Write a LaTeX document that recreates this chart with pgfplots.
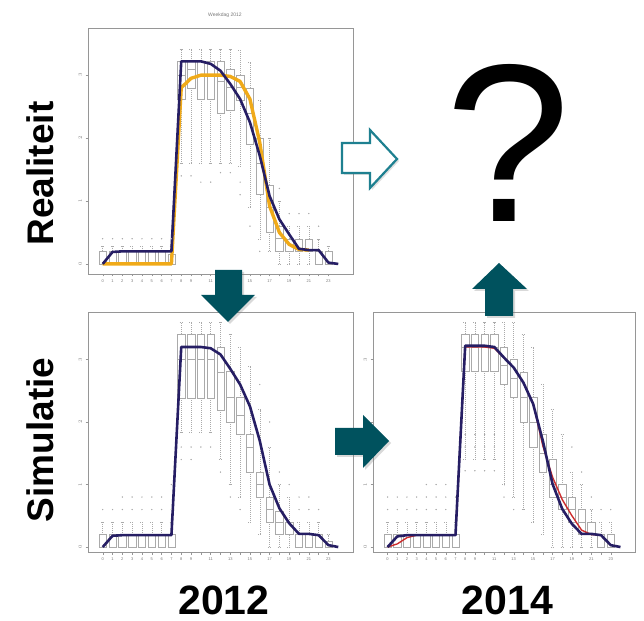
\documentclass[border=0pt]{standalone}
\usepackage{pgfplots}
\pgfplotsset{compat=1.18}
\usepgfplotslibrary{statistics}
\usetikzlibrary{shadows}
\usepackage{fontspec}
\setmainfont{Liberation Sans}
\definecolor{navy}{RGB}{38,30,100}
\definecolor{orangeline}{RGB}{240,170,25}
\definecolor{redline}{RGB}{205,45,45}
\definecolor{boxgray}{RGB}{170,170,170}
\definecolor{framegray}{RGB}{150,150,150}
\definecolor{labelgray}{RGB}{120,120,120}
\definecolor{tealdark}{RGB}{0,82,94}
\definecolor{tealmid}{RGB}{30,128,144}
\newcommand{\bx}[6]{\addplot[boxgray, line width=0.45pt, solid, mark=none,
  boxplot prepared={draw direction=y, draw position=#1, lower whisker=#2, lower quartile=#3,
  median=#4, upper quartile=#5, upper whisker=#6}] coordinates {};}
\pgfplotsset{panel/.style={scale only axis, xmin=-1.5, xmax=25.5,
  axis line style={draw=framegray, line width=0.7pt},
  xtick={0,...,23},
  xticklabels={0,1,2,3,4,5,6,7,8,9,,11,,13,,15,,17,,19,,21,,23},
  ytick={0,1,2,3}, tick pos=left, tick align=outside, major tick length=2.5pt,
  tick style={draw=framegray, line width=0.4pt},
  tick label style={font=\fontsize{4}{4}\selectfont, text=labelgray},
  yticklabel style={rotate=90},
  boxplot/draw direction=y,
  boxplot/box extend=0.75, boxplot/whisker extend=0.35,
  boxplot/every whisker/.style={dash pattern=on 1pt off 1pt},
  boxplot/every median/.style={line width=0.6pt},
  }}
\begin{document}
\begin{tikzpicture}[x=1pt,y=1pt]
\useasboundingbox (0pt,0pt) rectangle (644pt,620pt);

% ---------------- Panel 1: Realiteit 2012 ----------------
\begin{axis}[panel, at={(88pt,592pt)}, anchor=north west, width=265pt, height=246pt,
  ymin=-0.16, ymax=3.75]
\bx{0}{0}{0}{0}{0.2}{0.28}
\bx{1}{0}{0}{0}{0.2}{0.28}
\bx{2}{0}{0}{0}{0.2}{0.28}
\bx{3}{0}{0}{0}{0.2}{0.28}
\bx{4}{0}{0}{0}{0.2}{0.28}
\bx{5}{0}{0}{0}{0.2}{0.28}
\bx{6}{0}{0}{0}{0.2}{0.28}
\bx{7}{0}{0}{0}{0.15}{0.28}
\bx{8}{1.6}{2.62}{3.0}{3.22}{3.42}
\bx{9}{1.6}{2.8}{3.1}{3.22}{3.42}
\bx{10}{1.6}{2.62}{3.0}{3.22}{3.42}
\bx{11}{1.6}{2.62}{3.0}{3.22}{3.42}
\bx{12}{1.6}{2.4}{2.9}{3.22}{3.42}
\bx{13}{1.6}{2.45}{2.8}{3.1}{3.42}
\bx{14}{1.55}{2.6}{2.8}{3.0}{3.4}
\bx{15}{0.9}{1.9}{2.4}{2.8}{3.2}
\bx{16}{0.4}{1.1}{1.6}{2.0}{2.6}
\bx{17}{0.2}{0.5}{0.9}{1.25}{2.0}
\bx{18}{0}{0.2}{0.4}{0.6}{1.0}
\bx{19}{0}{0.2}{0.2}{0.4}{0.6}
\bx{20}{0}{0.2}{0.2}{0.4}{0.6}
\bx{21}{0}{0.2}{0.2}{0.4}{0.6}
\bx{22}{0}{0}{0.2}{0.2}{0.4}
\bx{23}{0}{0}{0}{0.2}{0.28}
\addplot[only marks, mark=*, mark size=0.45pt, boxgray] coordinates {
 (0,0.4)(1,0.4)(2,0.4)(3,0.4)(4,0.4)(5,0.4)(6,0.4)(7,0.4)
 (8,1.4)(9,1.4)(10,1.3)(11,1.3)(12,1.45)(13,1.45)(14,1.3)(14,1.1)
 (15,0.6)(16,0.2)(18,1.2)(19,0.8)(20,0.8)(21,0.8)(22,0.6)};
\addplot[orangeline, line width=3.4pt, line join=round] coordinates {
 (0,0)(1,0)(2,0)(3,0)(4,0)(5,0)(6,0)(7,0)(8,2.8)(9,2.95)(10,3.0)(11,3.0)
 (12,3.0)(13,2.98)(14,2.9)(15,2.62)(16,1.93)(17,0.92)(18,0.5)(19,0.31)
 (20,0.23)(21,0.22)};
\addplot[navy, line width=2.6pt, line join=round] coordinates {
 (0,0)(1,0.19)(2,0.2)(3,0.2)(4,0.2)(5,0.2)(6,0.2)(7,0.2)(8,3.22)(9,3.22)
 (10,3.22)(11,3.18)(12,3.07)(13,2.86)(14,2.62)(15,2.25)(16,1.72)(17,1.08)
 (18,0.71)(19,0.47)(20,0.24)(21,0.22)(22,0.22)(23,0.02)(24,0)};
\end{axis}

% ---------------- Panel 2: Simulatie 2012 ----------------
\begin{axis}[panel, at={(88pt,308pt)}, anchor=north west, width=265pt, height=240pt,
  ymin=-0.08, ymax=3.76]
\bx{0}{0}{0}{0}{0.2}{0.4}
\bx{1}{0}{0}{0}{0.2}{0.4}
\bx{2}{0}{0}{0}{0.2}{0.4}
\bx{3}{0}{0}{0}{0.2}{0.4}
\bx{4}{0}{0}{0}{0.2}{0.4}
\bx{5}{0}{0}{0}{0.2}{0.4}
\bx{6}{0}{0}{0}{0.2}{0.4}
\bx{7}{0}{0}{0}{0.2}{0.4}
\bx{8}{1.83}{2.38}{3.0}{3.41}{3.6}
\bx{9}{1.83}{2.38}{3.0}{3.41}{3.6}
\bx{10}{1.83}{2.38}{3.0}{3.41}{3.6}
\bx{11}{1.83}{2.38}{3.0}{3.41}{3.6}
\bx{12}{1.41}{2.19}{2.8}{3.2}{3.6}
\bx{13}{1.0}{2.0}{2.4}{2.82}{3.4}
\bx{14}{0.8}{1.81}{2.1}{2.39}{3.2}
\bx{15}{0.4}{1.2}{1.6}{1.81}{2.9}
\bx{16}{0.2}{0.8}{1.0}{1.2}{2.2}
\bx{17}{0}{0.4}{0.6}{0.8}{1.6}
\bx{18}{0}{0.21}{0.4}{0.58}{1.0}
\bx{19}{0}{0.2}{0.2}{0.4}{0.8}
\bx{20}{0}{0}{0.2}{0.2}{0.4}
\bx{21}{0}{0}{0.2}{0.2}{0.4}
\bx{22}{0}{0}{0.2}{0.2}{0.4}
\bx{23}{0}{0}{0}{0.1}{0.2}
\addplot[only marks, mark=*, mark size=0.45pt, boxgray] coordinates {
 (0,0.6)(1,0.6)(2,0.6)(3,0.6)(4,0.6)(5,0.6)(6,0.6)(7,0.6)
 (2,0.8)(3,0.8)(4,0.8)(5,0.8)(6,0.8)(7,1.0)
 (8,1.6)(9,1.6)(10,1.6)(11,1.6)(8,1.4)(9,1.4)(12,1.2)(13,0.8)(14,0.6)
 (16,2.6)(17,2.0)(18,1.2)(19,1.0)(20,0.6)(21,0.6)(20,0.8)(21,0.8)(22,0.6)};
\addplot[navy, line width=2.6pt, line join=round] coordinates {
 (0,0)(1,0.18)(2,0.19)(3,0.19)(4,0.19)(5,0.19)(6,0.19)(7,0.19)(8,3.2)(9,3.2)
 (10,3.2)(11,3.18)(12,3.08)(13,2.85)(14,2.6)(15,2.25)(16,1.7)(17,1.0)
 (18,0.62)(19,0.38)(20,0.21)(21,0.21)(22,0.19)(23,0.03)(24,0)};
\end{axis}

% ---------------- Panel 3: Simulatie 2014 ----------------
\begin{axis}[panel, at={(373pt,308pt)}, anchor=north west, width=262pt, height=240pt,
  ymin=-0.08, ymax=3.76]
\bx{0}{0}{0}{0}{0.2}{0.4}
\bx{1}{0}{0}{0}{0.2}{0.4}
\bx{2}{0}{0}{0}{0.2}{0.4}
\bx{3}{0}{0}{0}{0.2}{0.4}
\bx{4}{0}{0}{0}{0.2}{0.4}
\bx{5}{0}{0}{0}{0.2}{0.4}
\bx{6}{0}{0}{0}{0.2}{0.4}
\bx{7}{0}{0}{0}{0.2}{0.4}
\bx{8}{1.4}{2.82}{3.2}{3.4}{3.6}
\bx{9}{1.4}{2.82}{3.2}{3.4}{3.6}
\bx{10}{1.4}{2.82}{3.2}{3.4}{3.6}
\bx{11}{1.4}{2.82}{3.2}{3.4}{3.6}
\bx{12}{1.0}{2.6}{2.9}{3.2}{3.6}
\bx{13}{0.8}{2.39}{2.7}{3.0}{3.6}
\bx{14}{0.6}{1.99}{2.4}{2.8}{3.4}
\bx{15}{0.4}{1.6}{2.0}{2.4}{3.2}
\bx{16}{0.2}{1.2}{1.5}{1.8}{2.6}
\bx{17}{0}{0.8}{1.0}{1.4}{2.2}
\bx{18}{0}{0.6}{0.8}{1.0}{1.8}
\bx{19}{0}{0.4}{0.6}{0.8}{1.2}
\bx{20}{0}{0.2}{0.4}{0.6}{1.0}
\bx{21}{0}{0.2}{0.2}{0.4}{0.6}
\bx{22}{0}{0}{0.2}{0.2}{0.4}
\bx{23}{0}{0}{0}{0.2}{0.4}
\addplot[only marks, mark=*, mark size=0.45pt, boxgray] coordinates {
 (0,0.6)(1,0.6)(2,0.6)(3,0.6)(4,0.6)(5,0.6)(6,0.6)(7,0.6)
 (0,0.8)(1,0.8)(2,0.8)(3,0.8)(4,0.8)(5,0.8)(6,0.8)(7,0.8)
 (4,1.0)(5,1.0)(6,1.0)
 (8,1.8)(9,1.8)(10,1.8)(11,1.8)(8,1.6)(9,1.6)(10,1.6)(11,1.6)
 (8,1.22)(9,1.22)(10,1.22)(11,1.22)(12,0.8)(13,0.6)
 (19,1.6)(20,1.2)(21,0.8)(22,0.6)(23,0.6)};
\addplot[redline, line width=1.4pt, line join=round] coordinates {
 (0,0)(1,0.05)(2,0.15)(3,0.19)(4,0.19)(5,0.19)(6,0.19)(7,0.19)(8,3.2)(9,3.2)
 (10,3.2)(11,3.18)(12,3.03)(13,2.87)(14,2.63)(15,2.3)(16,1.62)(17,1.12)
 (18,0.76)(19,0.5)(20,0.27)(21,0.2)(22,0.19)(23,0.03)};
\addplot[navy, line width=2.6pt, line join=round] coordinates {
 (0,0)(1,0.17)(2,0.19)(3,0.19)(4,0.19)(5,0.19)(6,0.19)(7,0.19)(8,3.22)(9,3.22)
 (10,3.22)(11,3.2)(12,3.03)(13,2.87)(14,2.63)(15,2.29)(16,1.7)(17,1.01)
 (18,0.61)(19,0.37)(20,0.21)(21,0.21)(22,0.19)(23,0.03)(24,0)};
\end{axis}

% ---------------- Decorations ----------------
\node[font=\fontsize{5}{5}\selectfont, text=labelgray] at (225pt,605pt) {Weekdag 2012};

% hollow arrow
\draw[tealmid, line width=2.2pt, fill=white, line join=miter,
  drop shadow={opacity=0.25, shadow xshift=2pt, shadow yshift=-2pt}]
  (342,477) -- (370,477) -- (370,490) -- (397,461) -- (370,432) -- (370,447) -- (342,447) -- cycle;
% right solid arrow
\fill[tealdark, drop shadow={opacity=0.3, shadow xshift=2pt, shadow yshift=-2pt}]
  (335,192) -- (363,192) -- (363,205) -- (389,179) -- (363,152) -- (363,165) -- (335,165) -- cycle;
% up arrow
\fill[tealdark, drop shadow={opacity=0.3, shadow xshift=2pt, shadow yshift=-2pt}]
  (485,304) -- (485,331) -- (472,331) -- (499,357) -- (527,331) -- (513,331) -- (513,304) -- cycle;
% down arrow
\fill[tealdark, drop shadow={opacity=0.3, shadow xshift=2pt, shadow yshift=-2pt}]
  (215,350) -- (242,350) -- (242,325) -- (255,325) -- (228,298) -- (201,325) -- (215,325) -- cycle;

% question mark
\node[anchor=base, inner sep=0pt, font=\fontsize{225}{225}\selectfont] at (508pt,398pt) {?};

% labels
\node[rotate=90, inner sep=0pt, font=\bfseries\fontsize{37}{37}\selectfont] at (40pt,446.5pt) {Realiteit};
\node[rotate=90, inner sep=0pt, font=\bfseries\fontsize{37}{37}\selectfont] at (40pt,180pt) {Simulatie};
\node[inner sep=0pt, font=\bfseries\fontsize{41}{41}\selectfont] at (224pt,19.5pt) {2012};
\node[inner sep=0pt, font=\bfseries\fontsize{41}{41}\selectfont] at (507.5pt,19.5pt) {2014};
\end{tikzpicture}
\end{document}
